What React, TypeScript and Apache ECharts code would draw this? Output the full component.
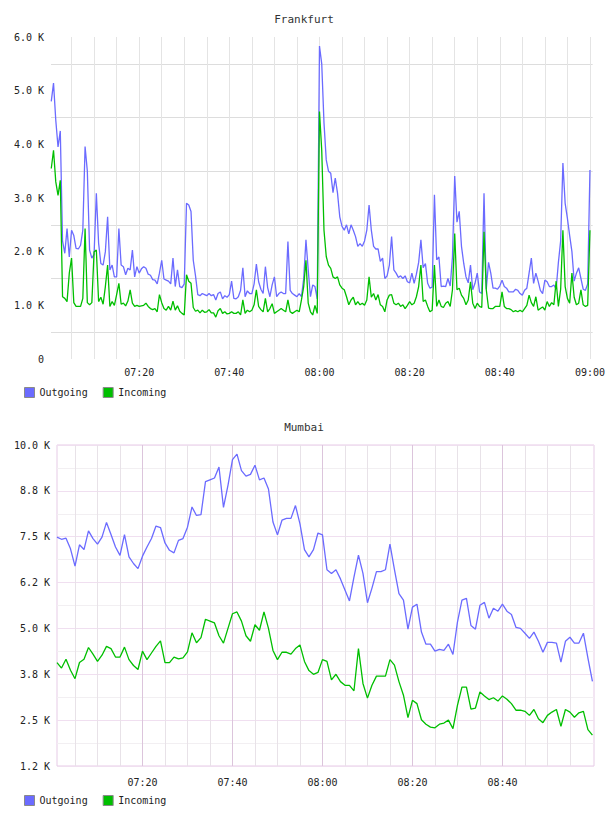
import React, { useEffect, useRef } from "react";
import * as echarts from "echarts";

// Frankfurt: 30-second samples (thousands), first sample at 07:00:30
const FRANKFURT_FIRST_MIN = 0.5;
const FRANKFURT_STEP_MIN = 0.5;
const frankfurtOutgoing = [
  4.80, 5.14, 4.45, 3.95, 4.25, 2.20, 1.97, 2.43, 1.90, 2.40,
  2.30, 2.06, 2.05, 2.12, 2.40, 3.96, 3.50, 2.03, 1.88, 1.95,
  3.09, 2.16, 1.78, 1.75, 2.00, 2.65, 1.66, 1.75, 1.53, 1.53,
  2.43, 1.75, 1.72, 1.57, 1.69, 1.66, 2.03, 1.53, 1.72, 1.60,
  1.68, 1.72, 1.69, 1.58, 1.56, 1.48, 1.47, 1.40, 1.60, 1.84,
  1.49, 1.47, 1.45, 1.40, 1.88, 1.35, 1.66, 1.35, 1.33, 1.40,
  2.90, 2.87, 2.75, 1.84, 1.55, 1.20, 1.18, 1.22, 1.20, 1.18,
  1.22, 1.18, 1.20, 1.10, 1.22, 1.25, 1.12, 1.18, 1.15, 1.20,
  1.45, 1.13, 1.12, 1.16, 1.28, 1.70, 1.16, 1.27, 1.22, 1.22,
  1.40, 1.77, 1.44, 1.30, 1.22, 1.72, 1.33, 1.16, 1.38, 1.53,
  1.16, 1.22, 1.25, 1.22, 1.22, 2.19, 1.28, 1.22, 1.19, 1.16,
  1.22, 1.16, 1.50, 2.22, 1.66, 1.16, 1.38, 1.35, 1.12, 5.83,
  5.50, 4.40, 3.71, 3.50, 3.46, 3.10, 3.37, 3.09, 2.65, 2.47,
  2.40, 2.50, 2.33, 2.50, 2.40, 2.28, 2.10, 2.15, 2.10, 2.20,
  2.40, 2.87, 2.40, 2.10, 2.05, 2.05, 1.82, 1.88, 1.50, 1.55,
  1.75, 2.28, 1.66, 1.60, 1.52, 1.55, 1.50, 1.55, 1.44, 1.42,
  1.60, 1.41, 1.58, 1.80, 2.22, 1.70, 1.78, 1.41, 1.32, 1.34,
  3.06, 1.85, 1.90, 1.35, 1.36, 1.35, 1.50, 1.36, 1.90, 3.41,
  2.55, 2.75, 2.10, 1.78, 1.53, 1.42, 1.75, 1.29, 1.41, 1.60,
  1.25, 1.22, 3.09, 1.30, 1.80, 1.60, 1.32, 1.32, 1.30, 1.36,
  1.47, 1.35, 1.32, 1.25, 1.25, 1.25, 1.30, 1.28, 1.22, 1.19,
  1.28, 1.32, 1.60, 1.88, 1.41, 1.60, 1.45, 1.28, 1.22, 1.47,
  1.44, 1.35, 1.35, 1.38, 1.30, 1.80, 2.20, 3.65, 2.90, 2.62,
  2.30, 2.00, 1.45, 1.60, 1.70, 1.50, 1.30, 1.28, 1.40, 3.52,
];
const frankfurtIncoming = [
  3.55, 3.89, 3.30, 3.05, 3.33, 1.16, 1.13, 1.07, 1.60, 1.88,
  1.05, 0.98, 0.98, 0.98, 1.13, 2.43, 1.05, 1.01, 1.05, 2.00,
  2.03, 1.07, 1.15, 1.02, 1.35, 1.75, 0.98, 1.07, 1.00, 1.20,
  1.41, 1.02, 1.04, 0.99, 1.08, 1.29, 1.04, 0.98, 1.00, 0.98,
  0.99, 1.00, 1.04, 0.98, 0.94, 0.92, 0.94, 0.88, 1.20, 1.05,
  0.94, 0.91, 0.98, 0.91, 1.08, 0.91, 0.99, 0.89, 0.85, 0.82,
  1.57, 1.45, 1.41, 0.96, 0.89, 0.91, 0.86, 0.91, 0.87, 0.88,
  0.92, 0.86, 0.86, 0.78, 0.90, 0.94, 0.85, 0.88, 0.84, 0.85,
  0.88, 0.85, 0.85, 0.88, 0.82, 1.10, 0.85, 0.91, 0.88, 0.91,
  1.01, 1.29, 0.98, 0.92, 0.88, 1.13, 0.88, 0.94, 1.03, 0.85,
  0.88, 0.91, 0.94, 0.91, 0.88, 1.10, 0.88, 0.85, 0.88, 0.91,
  0.88, 1.10, 1.35, 1.84, 1.04, 0.88, 0.82, 1.00, 0.85, 4.61,
  3.89, 2.40, 1.91, 1.75, 1.69, 1.53, 1.50, 1.53, 1.38, 1.32,
  1.29, 1.16, 1.01, 1.10, 1.15, 1.01, 1.07, 1.01, 1.04, 1.00,
  1.10, 1.53, 1.15, 1.22, 1.10, 1.20, 1.01, 0.98, 0.88, 1.10,
  1.19, 1.20, 1.04, 1.01, 1.04, 0.98, 1.01, 0.94, 1.00, 1.07,
  1.01, 1.04, 1.16, 1.35, 1.75, 1.07, 1.10, 0.98, 0.88, 0.91,
  1.75, 0.98, 1.10, 0.98, 0.96, 1.04, 1.07, 0.98, 1.29, 2.34,
  1.29, 1.32, 1.19, 1.13, 1.01, 1.10, 1.44, 1.04, 0.94, 1.04,
  0.98, 0.96, 2.37, 1.29, 0.95, 0.94, 0.94, 0.98, 0.98, 0.98,
  1.25, 0.98, 0.94, 0.94, 0.92, 0.88, 0.90, 0.88, 0.91, 0.88,
  0.94, 1.00, 1.19, 1.05, 0.98, 1.16, 0.91, 0.94, 0.97, 0.91,
  1.07, 0.98, 1.05, 1.01, 1.45, 0.98, 1.30, 2.40, 1.35, 1.13,
  1.04, 1.60, 1.15, 1.01, 1.04, 1.29, 1.01, 0.98, 1.00, 2.40,
];

// Mumbai: 1-minute samples (thousands), first sample at 07:01
const MUMBAI_FIRST_MIN = 1;
const MUMBAI_STEP_MIN = 1;
const mumbaiOutgoing = [
  7.49, 7.43, 7.46, 7.17, 6.70, 7.28, 7.15, 7.66, 7.45, 7.30,
  7.49, 7.89, 7.56, 7.22, 6.99, 7.56, 6.95, 6.77, 6.63, 6.97,
  7.22, 7.45, 7.79, 7.75, 7.33, 7.13, 7.06, 7.40, 7.45, 7.76,
  8.31, 8.08, 8.10, 9.00, 9.05, 9.10, 9.40, 8.30, 8.90, 9.60,
  9.75, 9.30, 9.15, 9.20, 9.45, 9.05, 9.10, 8.80, 7.90, 7.55,
  7.95, 8.00, 8.00, 8.35, 7.85, 7.15, 6.95, 7.15, 7.60, 7.55,
  6.60, 6.50, 6.60, 6.35, 6.05, 5.75, 6.40, 7.00, 6.50, 5.70,
  6.10, 6.55, 6.55, 6.60, 7.30, 6.60, 5.95, 5.77, 4.98, 5.58,
  5.66, 4.90, 4.57, 4.57, 4.38, 4.43, 4.40, 4.57, 4.29, 5.17,
  5.77, 5.82, 5.08, 4.98, 5.63, 5.71, 5.28, 5.55, 5.47, 5.66,
  5.47, 5.38, 5.03, 5.00, 4.87, 4.73, 4.90, 4.65, 4.35, 4.62,
  4.62, 4.60, 4.08, 4.65, 4.76, 4.60, 4.60, 4.87, 4.19, 3.56,
];
const mumbaiIncoming = [
  4.07, 3.92, 4.16, 3.86, 3.63, 4.07, 4.16, 4.48, 4.30, 4.10,
  4.27, 4.51, 4.45, 4.22, 4.22, 4.49, 4.15, 3.99, 3.88, 4.38,
  4.15, 4.33, 4.51, 4.66, 4.07, 4.07, 4.22, 4.17, 4.20, 4.36,
  4.88, 4.61, 4.75, 5.25, 5.20, 5.15, 4.80, 4.60, 5.00, 5.40,
  5.45, 5.20, 4.80, 4.65, 5.10, 4.95, 5.45, 5.00, 4.40, 4.15,
  4.35, 4.35, 4.30, 4.45, 4.55, 4.10, 3.85, 3.75, 3.80, 4.15,
  4.10, 3.60, 3.75, 3.55, 3.45, 3.45, 3.30, 4.45, 3.50, 3.10,
  3.45, 3.70, 3.70, 3.70, 4.15, 4.00, 3.55, 3.18, 2.57, 3.04,
  2.95, 2.51, 2.39, 2.31, 2.29, 2.39, 2.42, 2.50, 2.27, 2.90,
  3.40, 3.40, 2.80, 2.83, 3.27, 3.16, 3.06, 3.11, 3.02, 3.16,
  3.07, 2.95, 2.77, 2.77, 2.74, 2.63, 2.79, 2.54, 2.43, 2.63,
  2.72, 2.79, 2.33, 2.79, 2.72, 2.58, 2.70, 2.74, 2.24, 2.09,
];

// Axis tick labels
const frankfurtYTicks = ["0", "1.0 K", "2.0 K", "3.0 K", "4.0 K", "5.0 K", "6.0 K"];
const mumbaiYTicks = ["1.2 K", "2.5 K", "3.8 K", "5.0 K", "6.2 K", "7.5 K", "8.8 K", "10.0 K"];
const frankfurtXTicks = ["07:20", "07:40", "08:00", "08:20", "08:40", "09:00"];
const mumbaiXTicks = ["07:20", "07:40", "08:00", "08:20", "08:40"];

const FONT = "DejaVu Sans Mono";
const OUT_COLOR = "#6b6bff";
const IN_COLOR = "#00bf00";

const toPoints = (values: number[], first: number, step: number) =>
  values.map((v, i) => [first + i * step, v]);

const range = (from: number, to: number, step: number) => {
  const out: number[] = [];
  for (let v = from; v <= to + 1e-9; v += step) out.push(v);
  return out;
};

export default function App() {
  const ref = useRef<HTMLDivElement>(null);

  useEffect(() => {
    if (!ref.current) return;
    const chart = echarts.init(ref.current, undefined, { renderer: "svg" });

    const labelStyle = { fontFamily: FONT, fontSize: 10, color: "#222" };

    const option: any = {
      animation: false,
      backgroundColor: "#ffffff",
      title: [
        {
          text: "Frankfurt",
          left: "center",
          top: 14,
          padding: 0,
          textStyle: { fontFamily: FONT, fontSize: 11, fontWeight: "normal", color: "#333" },
        },
        {
          text: "Mumbai",
          left: "center",
          top: 422,
          padding: 0,
          textStyle: { fontFamily: FONT, fontSize: 11, fontWeight: "normal", color: "#333" },
        },
      ],
      legend: [0, 1].map((k) => ({
        data: ["Outgoing", "Incoming"],
        left: 24,
        top: k === 0 ? 387 : 795,
        padding: 0,
        orient: "horizontal",
        icon: "rect",
        itemWidth: 10,
        itemHeight: 10,
        itemGap: 15,
        selectedMode: false,
        itemStyle: { borderColor: "#8a8a8a", borderWidth: 1 },
        textStyle: { fontFamily: FONT, fontSize: 10, color: "#222" },
      })),
      grid: [
        { left: 51, top: 37, width: 543, height: 322, show: false },
        {
          left: 57,
          top: 445,
          width: 537,
          height: 321,
          show: true,
          borderColor: "#e6cbe6",
          borderWidth: 1,
          backgroundColor: "transparent",
        },
      ],
      xAxis: [
        {
          type: "value",
          gridIndex: 0,
          min: 0.44,
          max: 120.6,
          axisLine: { show: false },
          axisTick: { show: false, customValues: range(5, 120, 5) },
          axisLabel: {
            ...labelStyle,
            margin: 8,
            customValues: range(20, 120, 20),
            formatter: (v: number) => frankfurtXTicks[Math.round(v / 20) - 1] ?? "",
          },
          splitLine: {
            show: true,
            showMinLine: true,
            showMaxLine: true,
            lineStyle: { color: "#e4e4e4", width: 1 },
          },
        },
        {
          type: "value",
          gridIndex: 1,
          min: 1,
          max: 120.35,
          axisLine: { show: false },
          axisTick: { show: false, customValues: range(5, 115, 5) },
          axisLabel: {
            ...labelStyle,
            margin: 11,
            customValues: range(20, 100, 20),
            formatter: (v: number) => mumbaiXTicks[Math.round(v / 20) - 1] ?? "",
          },
          splitLine: {
            show: true,
            showMinLine: true,
            showMaxLine: true,
            lineStyle: { color: ["#e8e2e8", "#e8e2e8", "#e8e2e8", "#dcc5dc"], width: 1 },
          },
        },
      ],
      yAxis: [
        {
          type: "value",
          gridIndex: 0,
          min: 0,
          max: 6,
          interval: 0.5,
          axisLine: { show: false },
          axisTick: { show: false },
          axisLabel: {
            ...labelStyle,
            margin: 7,
            formatter: (v: number) =>
              Math.abs(v - Math.round(v)) < 1e-6 ? frankfurtYTicks[Math.round(v)] : "",
          },
          splitLine: {
            show: true,
            lineStyle: { color: ["rgba(0,0,0,0)", "#dddddd"], width: 1 },
          },
        },
        {
          type: "value",
          gridIndex: 1,
          min: 1.25,
          max: 10,
          interval: 0.625,
          axisLine: { show: false },
          axisTick: { show: false },
          axisLabel: {
            ...labelStyle,
            margin: 7,
            formatter: (v: number) => {
              const k = (v - 1.25) / 1.25;
              return Math.abs(k - Math.round(k)) < 1e-6 ? mumbaiYTicks[Math.round(k)] : "";
            },
          },
          splitLine: {
            show: true,
            lineStyle: { color: ["#f0dff0", "#f2eff2"], width: 1 },
          },
        },
      ],
      series: [
        {
          name: "Outgoing",
          type: "line",
          xAxisIndex: 0,
          yAxisIndex: 0,
          data: toPoints(frankfurtOutgoing, FRANKFURT_FIRST_MIN, FRANKFURT_STEP_MIN),
          symbol: "none",
          lineStyle: { color: OUT_COLOR, width: 1.3 },
          itemStyle: { color: OUT_COLOR },
        },
        {
          name: "Incoming",
          type: "line",
          xAxisIndex: 0,
          yAxisIndex: 0,
          data: toPoints(frankfurtIncoming, FRANKFURT_FIRST_MIN, FRANKFURT_STEP_MIN),
          symbol: "none",
          lineStyle: { color: IN_COLOR, width: 1.3 },
          itemStyle: { color: IN_COLOR },
        },
        {
          name: "Outgoing",
          type: "line",
          xAxisIndex: 1,
          yAxisIndex: 1,
          data: toPoints(mumbaiOutgoing, MUMBAI_FIRST_MIN, MUMBAI_STEP_MIN),
          symbol: "none",
          lineStyle: { color: OUT_COLOR, width: 1.3 },
          itemStyle: { color: OUT_COLOR },
        },
        {
          name: "Incoming",
          type: "line",
          xAxisIndex: 1,
          yAxisIndex: 1,
          data: toPoints(mumbaiIncoming, MUMBAI_FIRST_MIN, MUMBAI_STEP_MIN),
          symbol: "none",
          lineStyle: { color: IN_COLOR, width: 1.3 },
          itemStyle: { color: IN_COLOR },
        },
      ],
    };

    chart.setOption(option);
    return () => chart.dispose();
  }, []);

  return (
    <div
      ref={ref}
      style={{ position: "absolute", left: 0, top: 0, width: 608, height: 816, background: "#fff" }}
    />
  );
}
